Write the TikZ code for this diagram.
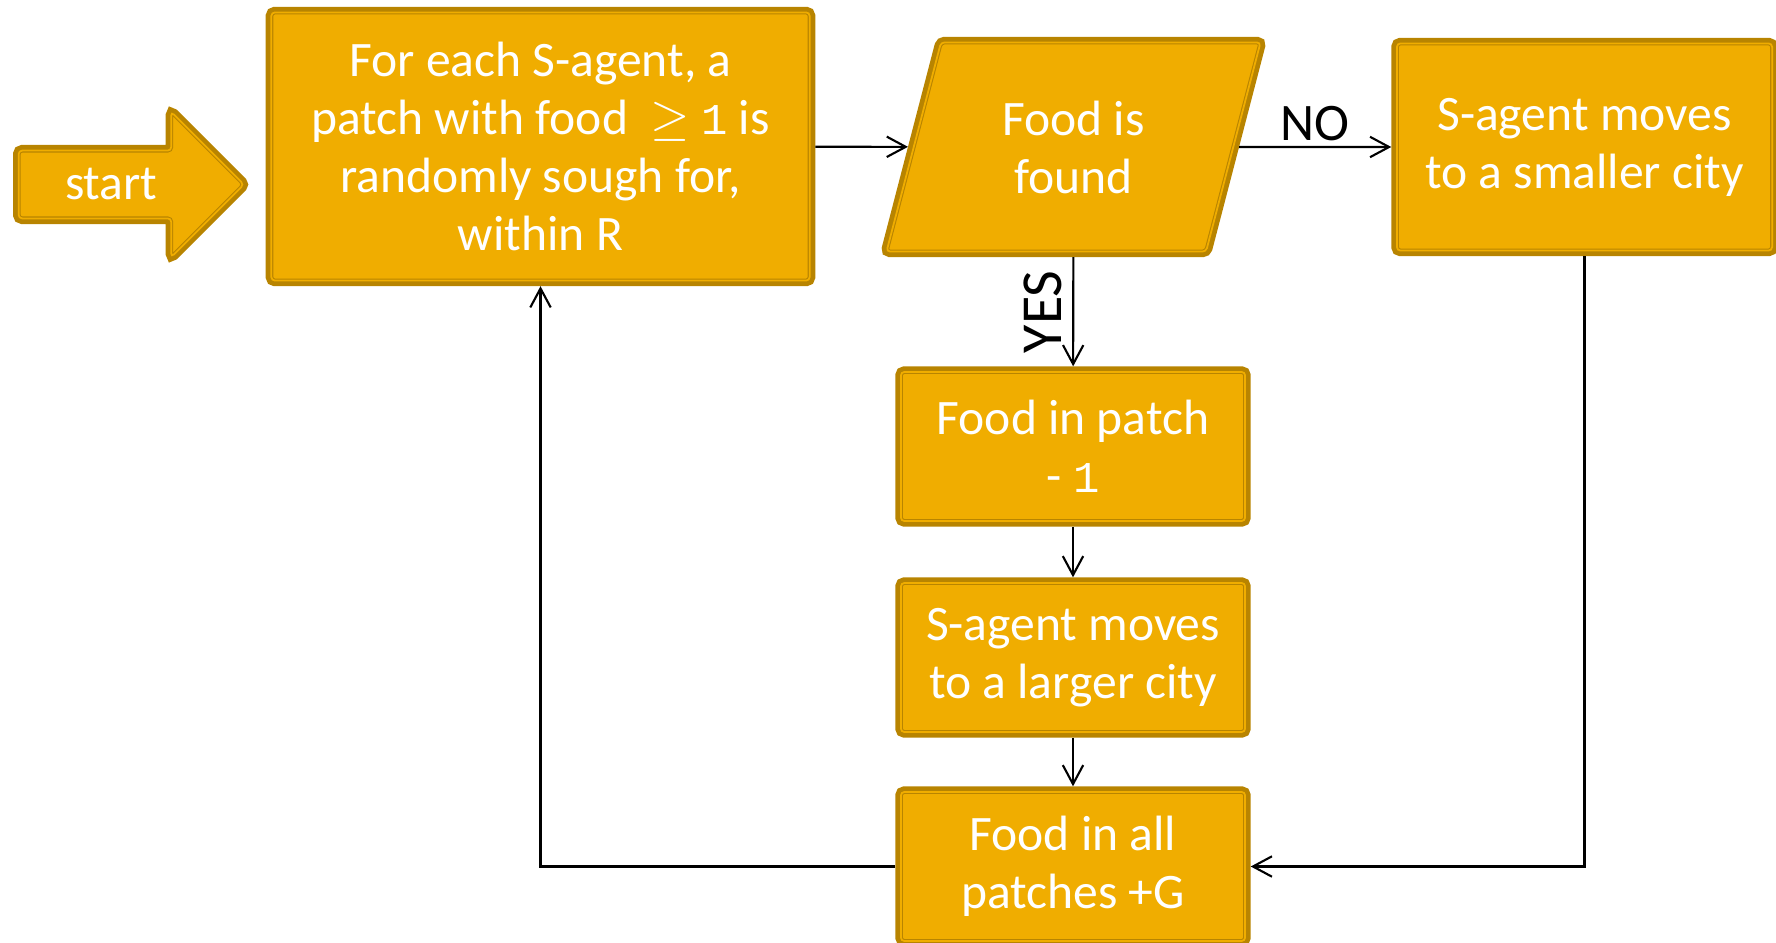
\documentclass[tikz,border=0pt]{standalone}
\usepackage{fontspec}
\setmainfont{Carlito}
\setmonofont{Liberation Mono}
\usetikzlibrary{shapes.geometric,shapes.arrows,arrows.meta}
\definecolor{goldfill}{HTML}{F0AD00}
\definecolor{golddark}{HTML}{B88400}

\tikzset{
  stepbox/.style={rectangle, rounded corners=1pt, fill=goldfill, draw=golddark,
    line width=3.2pt, text=white, align=center, inner sep=0pt,
    font=\fontsize{14.1}{16.5}\selectfont,
    postaction={fill=goldfill},
    postaction={draw=golddark, line width=0.3pt, double=goldfill, double distance=0.5pt}},
  flow/.style={-{Straight Barb[length=5.4pt,width=5.8pt]}, line width=0.6pt, black},
  flowlabel/.style={font=\fontsize{15}{18}\selectfont, text=black, inner sep=1.5pt}
}
\newcommand{\digit}[1]{{\ttfamily\fontsize{12.5}{16.5}\selectfont #1}}

\begin{document}
\begin{tikzpicture}[x=0.01cm,y=-0.01cm]
\useasboundingbox (0,0) rectangle (1776,943);
% start arrow
\node[stepbox, single arrow, single arrow head extend=0.245cm, single arrow head indent=0pt,
  minimum height=2.25cm, minimum width=1.45cm, anchor=west] (start) at (13,184.5)
  {start\hspace{0.06cm}};
% boxes
\node[stepbox, minimum width=5.38cm, minimum height=2.68cm] (task) at (540.5,146.5)
  {For each S-agent, a\\ patch with food \ $\geq$ \digit{1} is\\ randomly sough for,\\ within R};
\node[stepbox, trapezium, trapezium left angle=72.5, trapezium right angle=107.5,
  trapezium stretches=true, minimum width=3.76cm, minimum height=2.09cm] (found) at (1073.5,147)
  {Food is\\ found};
\node[stepbox, minimum width=3.75cm, minimum height=2.07cm] (smaller) at (1584.5,147)
  {S-agent moves\\ to a smaller city};
\node[stepbox, minimum width=3.44cm, minimum height=1.49cm] (patch) at (1073,446.5)
  {Food in patch\\ - \digit{1}};
\node[stepbox, minimum width=3.44cm, minimum height=1.49cm] (larger) at (1073,657.5)
  {S-agent moves\\ to a larger city};
\node[stepbox, minimum width=3.44cm, minimum height=1.49cm] (growth) at (1073,866.5)
  {Food in all\\ patches +G};
% connectors
\draw[flow] (task) -- (found);
\draw[flow] (found) -- node[flowlabel, above] {NO} (smaller);
\draw[flow] (found) -- node[flowlabel, font=\fontsize{16.5}{18}\selectfont, inner sep=3pt,
  rotate=90, anchor=south] {YES} (patch);
\draw[flow] (patch) -- (larger);
\draw[flow] (larger) -- (growth);
\draw[flow] (smaller) |- (growth);
\draw[flow] (growth) -| (task);
\end{tikzpicture}
\end{document}
